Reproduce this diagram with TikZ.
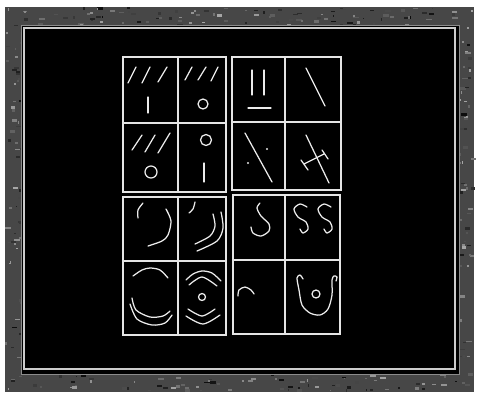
\documentclass[tikz,border=0pt]{standalone}
\begin{document}
\begin{tikzpicture}[x=1pt,y=-1pt,
  chalk/.style={draw=white!92!black,line width=1.25pt,line cap=round,line join=round},
  boxline/.style={draw=white!90!black,line width=1.7pt,line cap=round},
  dot/.style={fill=white!90!black}]
\useasboundingbox (0,0) rectangle (478,392);
\fill[white] (0,0) rectangle (478,392);
% frame
\fill[black!72] (5,7) rectangle (474,392);
\pgfmathsetseed{11}
\foreach \i in {1,...,2200}{
  \pgfmathsetmacro{\px}{5+466*rnd}
  \pgfmathsetmacro{\py}{7+383*rnd}
  \pgfmathsetmacro{\g}{int(35+62*rnd)}
  \pgfmathsetmacro{\w}{1+5*rnd}
  \pgfmathsetmacro{\h}{1+2*rnd}
  \fill[black!\g] (\px,\py) rectangle ++(\w,\h);
}
% board
\fill[black] (21,25) rectangle (459,374);
\draw[black!45,line width=0.8pt] (21,25) rectangle (459,374);
\draw[white!80!black,line width=1.6pt] (24,28) rectangle (455,369);
\fill[black] (25.5,29.5) rectangle (453.5,367.5);

% boxes
\draw[boxline] (123,57) rectangle (226,192);
\draw[boxline] (178,57) -- (178,192);
\draw[boxline] (123,123) -- (226,123);
\draw[boxline] (232,57) rectangle (341,190);
\draw[boxline] (285,57) -- (285,190);
\draw[boxline] (232,122) -- (341,122);
\draw[boxline] (123,197) rectangle (226,335);
\draw[boxline] (178,197) -- (178,335);
\draw[boxline] (123,261) -- (226,261);
\draw[boxline] (233,195) rectangle (340,334);
\draw[boxline] (285,195) -- (285,334);
\draw[boxline] (233,260) -- (340,260);

% top-left box
\draw[chalk] (128,83)--(136,67) (142,83)--(150,67) (158,82)--(167,67);
\draw[chalk] (148,97)--(148,113);
\draw[chalk] (185,80)--(192,67) (198,80)--(206,67) (211,81)--(218,67);
\draw[chalk] (203,104) circle (5);
\draw[chalk] (132,150)--(142,135) (145,152)--(155,135) (158,153)--(170,133);
\draw[chalk] (151,172) circle (6);
\draw[chalk] (206,140) circle (5.5);
\draw[chalk] (204,163)--(204,182);

% top-right box
\draw[chalk] (252,70)--(252,95) (264,70)--(264,95) (248,108)--(271,108);
\draw[chalk] (306,68)--(325,106);
\draw[chalk] (245,133)--(272,182);
\fill[dot] (267,149) circle (1.1) (248,163) circle (1.1);
\draw[chalk] (306,135)--(329,183);
\draw[chalk] (304,164)--(324,154) (301,160)--(308,170) (322,150)--(328,159);

% bottom-left box
\draw[chalk] plot[smooth] coordinates {(138,218) (138,210) (143,203)};
\draw[chalk] plot[smooth] coordinates {(166,209) (171,221) (168,235) (162,241) (148,246)};
\draw[chalk] plot[smooth] coordinates {(195,202) (193,209) (189,213)};
\draw[chalk] plot[smooth] coordinates {(213,214) (215,226) (210,236) (195,244)};
\draw[chalk] plot[smooth] coordinates {(221,212) (223,228) (217,241) (197,251)};
\draw[chalk] plot[smooth] coordinates {(133,276) (142,270) (150,268) (160,270) (168,278)};
\draw[chalk] plot[smooth] coordinates {(132,298) (136,310) (150,317) (163,316) (170,311)};
\draw[chalk] plot[smooth] coordinates {(130,304) (137,319) (152,325) (165,323) (172,315)};
\draw[chalk] plot[smooth] coordinates {(186,280) (193,274) (202,271) (212,273) (221,281)};
\draw[chalk] plot[smooth] coordinates {(189,285) (202,277) (217,286)};
\draw[chalk] (202,297) circle (3.5);
\draw[chalk] plot[smooth] coordinates {(188,309) (202,316) (215,309)};
\draw[chalk] plot[smooth] coordinates {(186,316) (203,324) (220,315)};

% bottom-right box
\draw[chalk] plot[smooth] coordinates {(260,203) (257,208) (261,216) (269,224) (269,231) (261,236) (253,233) (251,227)};
\draw[chalk] plot[smooth] coordinates {(307,207) (300,204) (294,209) (298,217) (306,222) (308,229) (303,233) (300,229)};
\draw[chalk] plot[smooth] coordinates {(331,207) (324,204) (318,209) (322,217) (330,222) (332,229) (327,233) (324,229)};
\draw[chalk] plot[smooth] coordinates {(238,296) (239,290) (245,287) (251,290) (254,294)};
\draw[chalk] plot[smooth] coordinates {(303,279) (300,275) (297,278) (299,290) (302,305) (310,313) (320,315) (328,309) (332,295) (332,280) (334,276) (337,277) (336,281)};
\draw[chalk] (316,294) circle (4);
\end{tikzpicture}
\end{document}
